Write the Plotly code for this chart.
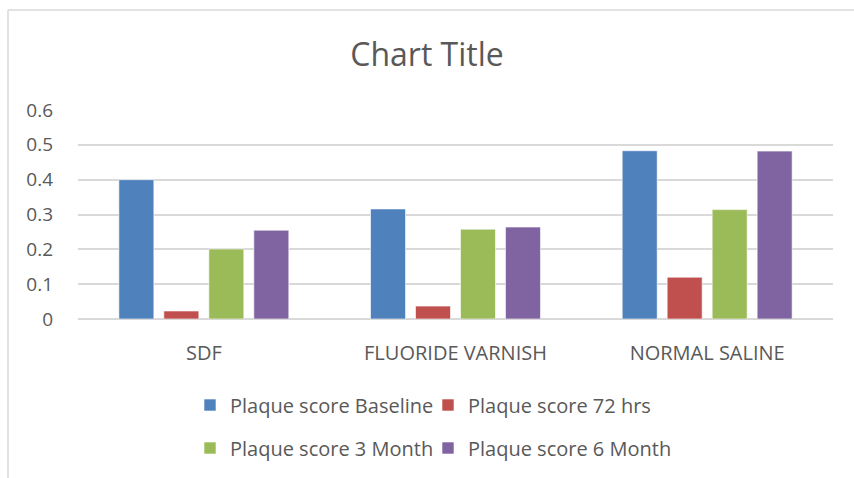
import plotly.graph_objects as go

categories = ["SDF", "FLUORIDE VARNISH", "NORMAL SALINE"]
series_names = ["Plaque score Baseline", "Plaque score 72 hrs", "Plaque score 3 Month", "Plaque score 6 Month"]
baseline = [0.40, 0.316, 0.483]
hrs72 = [0.023, 0.037, 0.12]
month3 = [0.201, 0.258, 0.314]
month6 = [0.255, 0.264, 0.482]
colors = ["#4F81BD", "#C0504D", "#9BBB59", "#8064A2"]
y_ticks = [0, 0.1, 0.2, 0.3, 0.4, 0.5, 0.6]

FONT = "Open Sans"
TXT = "#595959"

legend_ids = ["legend", "legend2", "legend3", "legend4"]

fig = go.Figure()
for i, (name, vals) in enumerate(zip(series_names, [baseline, hrs72, month3, month6])):
    fig.add_trace(go.Bar(
        x=categories, y=vals, name=name, showlegend=True,
        marker=dict(color=colors[i], line=dict(color="rgba(255,255,255,0.6)", width=1)),
        legend=legend_ids[i],
    ))

def leg(px_left, px_y):
    return dict(orientation="h", xanchor="left", x=(px_left - 78) / 755,
                yanchor="middle", y=(319 - px_y) / 209, visible=True,
                font=dict(family=FONT, size=20, color=TXT), itemwidth=30,
                bgcolor="rgba(0,0,0,0)")

fig.update_layout(
    width=854, height=478,
    showlegend=True,
    margin=dict(l=78, r=21, t=110, b=159, autoexpand=False),
    paper_bgcolor="white", plot_bgcolor="white",
    barmode="group", bargap=0.285, bargroupgap=0.222,
    title=dict(text="Chart Title", x=0.5, xanchor="center", y=1 - 55 / 478, yanchor="middle",
               font=dict(family=FONT, size=32, color=TXT)),
    font=dict(family=FONT, color=TXT),
    legend=leg(190, 405),
    legend2=leg(428, 405),
    legend3=leg(190, 448),
    legend4=leg(428, 448),
    xaxis=dict(showline=False, ticks="", automargin=False,
               tickfont=dict(family=FONT, size=20, color=TXT), ticklabelstandoff=20),
    yaxis=dict(range=[0, 0.6], tickvals=y_ticks, ticktext=["0", "0.1", "0.2", "0.3", "0.4", "0.5", "0.6"],
               automargin=False, showgrid=True, gridcolor="#d9d9d9", gridwidth=1.5,
               zeroline=True, zerolinecolor="#d9d9d9", zerolinewidth=1.5,
               tickfont=dict(family=FONT, size=19, color=TXT), ticklabelstandoff=24),
    shapes=[
        dict(type="line", xref="paper", yref="paper", x0=(8 - 78) / 755, x1=(860 - 78) / 755,
             y0=(319 - 10) / 209, y1=(319 - 10) / 209, line=dict(color="#d9d9d9", width=1.5)),
        dict(type="line", xref="paper", yref="paper", x0=(8 - 78) / 755, x1=(8 - 78) / 755,
             y0=(319 - 10) / 209, y1=(319 - 490) / 209, line=dict(color="#d9d9d9", width=1.5)),
    ],
)

fig.write_html("out.html", config={"displayModeBar": False},
               post_script="document.body.style.margin='0px';document.body.style.overflow='hidden';")
